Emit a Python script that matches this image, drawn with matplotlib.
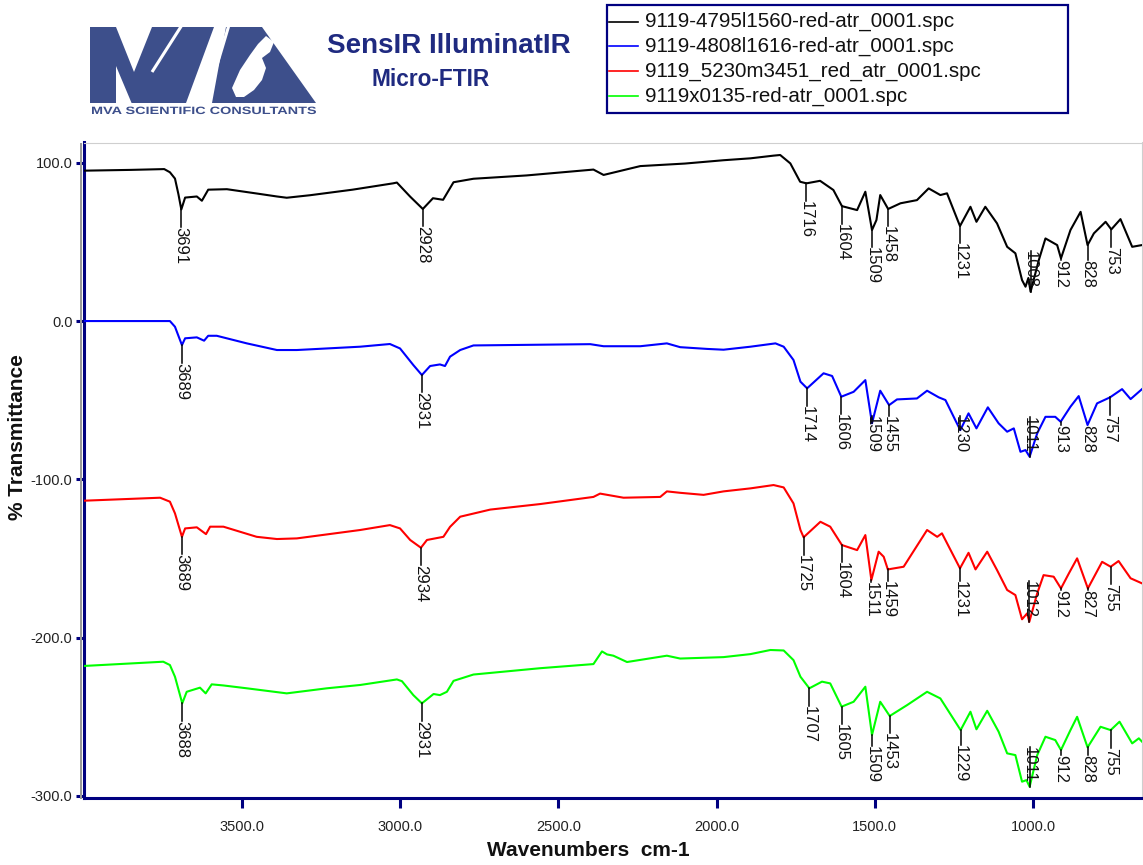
import numpy as np
import matplotlib
matplotlib.use("Agg")
import matplotlib.pyplot as plt
from matplotlib.patches import Polygon, Rectangle, PathPatch
from matplotlib.textpath import TextPath
from matplotlib.font_manager import FontProperties
from matplotlib.transforms import Affine2D

plt.rcParams['font.family'] = ['Liberation Sans', 'DejaVu Sans']

# ---------------------------------------------------------------- spectra
# wavenumber (cm-1, descending) and offset %T for each trace
black_wn = [4000, 3850, 3745, 3727, 3711, 3700, 3691, 3679, 3642, 3626, 3606,
            3547, 3450, 3389, 3358, 3284, 3150, 3022, 3010, 2968, 2928, 2896,
            2864, 2831, 2768, 2600, 2389, 2357, 2241, 2100, 1978, 1893, 1820,
            1799, 1767, 1736, 1716, 1673, 1631, 1604, 1556, 1530, 1509, 1495,
            1483, 1458, 1419, 1367, 1330, 1293, 1272, 1231, 1198, 1179, 1151,
            1114, 1082, 1056, 1035, 1024, 1015, 1008, 982, 961, 924, 912, 882,
            850, 828, 808, 771, 753, 724, 687, 656]
black_t = [95.0, 95.5, 96.0, 94.0, 90.0, 80.0, 70.5, 78.0, 78.7, 76.0, 83.0,
           83.3, 80.5, 78.7, 77.9, 79.5, 83.0, 87.0, 87.5, 78.6, 70.8, 77.6,
           76.6, 87.7, 89.9, 92.0, 95.7, 92.3, 97.9, 99.5, 101.6, 102.8, 104.5,
           104.9, 99.6, 88.0, 87.0, 88.6, 82.8, 72.6, 70.1, 81.7, 57.5, 63.8,
           79.6, 70.8, 74.4, 76.4, 83.8, 79.6, 80.7, 60.0, 72.2, 62.7, 72.2,
           61.7, 46.9, 42.8, 25.9, 21.7, 27.2, 18.5, 38.5, 52.2, 48.0, 39.6, 57.5,
           69.0, 48.0, 55.4, 62.7, 57.9, 64.4, 46.9, 48.0]

blue_wn = [4000, 3850, 3727, 3711, 3689, 3679, 3642, 3619, 3606, 3579, 3484,
           3389, 3326, 3126, 3032, 3000, 2958, 2931, 2905, 2874, 2858, 2842,
           2810, 2768, 2399, 2357, 2241, 2157, 2115, 2030, 1978, 1893, 1814,
           1788, 1757, 1735, 1714, 1662, 1635, 1606, 1567, 1530, 1509, 1483,
           1455, 1430, 1367, 1335, 1298, 1277, 1246, 1230, 1204, 1179, 1143,
           1109, 1082, 1061, 1040, 1024, 1011, 987, 961, 930, 913, 882, 856,
           828, 798, 757, 719, 692, 656]
blue_t = [0.0, 0.0, 0.0, -3.6, -15.2, -10.9, -10.3, -12.4, -9.3, -9.3, -14.1,
          -18.3, -18.3, -16.2, -14.5, -17.3, -27.8, -34.1, -28.4, -27.4, -28.4, -22.5,
          -18.3, -15.4, -14.6, -15.9, -15.9, -14.1, -16.5, -17.6, -18.1, -16.2, -14.1,
          -16.2, -24.6, -38.3, -42.5, -33.0, -34.7, -47.8, -44.7, -37.3, -64.6, -44.0,
          -53.1, -49.5, -48.9, -44.0, -48.2, -49.9, -62.5, -68.9, -58.3, -67.8, -54.5,
          -64.6, -69.9, -67.8, -82.6, -81.5, -85.7, -70.9, -60.5, -60.5, -63.6, -54.1, -47.4,
          -65.7, -52.0, -48.2, -43.0, -49.3, -43.0]

red_wn = [4000, 3758, 3727, 3711, 3689, 3679, 3642, 3613, 3600, 3558, 3453,
          3389, 3326, 3126, 3032, 3000, 2968, 2934, 2915, 2863, 2842, 2810,
          2715, 2557, 2389, 2368, 2294, 2178, 2157, 2115, 2041, 1978, 1893,
          1820, 1788, 1757, 1735, 1725, 1672, 1641, 1604, 1556, 1530, 1511,
          1488, 1472, 1459, 1409, 1335, 1303, 1288, 1231, 1204, 1182, 1145,
          1114, 1082, 1056, 1035, 1019, 1012, 987, 967, 935, 912, 887, 861,
          827, 782, 755, 730, 692, 656]
red_t = [-113.5, -111.6, -114.1, -121.5, -136.3, -131.0, -130.3, -134.6, -129.9, -129.9, -136.3,
         -137.7, -137.3, -132.0, -128.9, -131.0, -138.3, -143.2, -138.3, -136.3, -130.0, -123.6,
         -119.1, -115.6, -111.1, -109.0, -111.6, -111.1, -107.6, -108.5, -109.8, -107.6, -105.7,
         -103.6, -105.1, -115.2, -132.0, -136.6, -126.8, -129.9, -141.5, -144.7, -135.2, -163.6,
         -145.7, -148.9, -156.9, -155.2, -132.0, -136.3, -134.1, -156.2, -146.4, -156.9, -145.7,
         -157.3, -169.9, -173.1, -188.4, -184.7, -190.0, -172.0, -160.5, -161.5, -168.9, -159.4, -149.9,
         -168.9, -152.1, -155.2, -151.6, -162.5, -165.7]

green_wn = [4000, 3748, 3727, 3711, 3688, 3674, 3632, 3614, 3595, 3558, 3484,
            3358, 3231, 3126, 3010, 2994, 2958, 2931, 2894, 2874, 2852, 2831,
            2768, 2557, 2389, 2362, 2346, 2326, 2283, 2157, 2115, 1978, 1893,
            1830, 1788, 1757, 1735, 1707, 1667, 1641, 1605, 1567, 1530, 1509,
            1483, 1453, 1398, 1335, 1293, 1229, 1198, 1179, 1145, 1109, 1082,
            1056, 1035, 1021, 1011, 987, 961, 930, 912, 882, 861, 828, 787,
            755, 727, 687, 666, 656]
green_t = [-217.9, -215.2, -217.3, -224.7, -241.5, -234.2, -231.6, -235.2, -229.5, -230.2, -232.0,
           -235.2, -232.0, -229.9, -226.4, -227.5, -236.3, -241.5, -235.6, -236.3, -234.2, -227.3,
           -223.3, -219.3, -216.7, -208.7, -210.6, -211.4, -215.4, -211.4, -213.2, -212.3, -210.4,
           -207.8, -208.1, -214.2, -224.7, -232.0, -227.8, -228.9, -243.6, -240.5, -231.0, -261.5,
           -240.5, -249.5, -242.6, -234.2, -238.4, -258.4, -246.8, -257.9, -246.2, -259.4, -273.1,
           -274.2, -291.0, -290.0, -294.2, -274.2, -262.6, -264.7, -271.0, -258.4, -250.0, -269.3, -256.3,
           -258.4, -253.1, -266.8, -263.6, -265.7]

# peak positions annotated on each trace
black_peaks = [3691, 2928, 1716, 1604, 1509, 1458, 1231, 1008, 912, 828, 753]
blue_peaks = [3689, 2931, 1714, 1606, 1509, 1455, 1230, 1011, 913, 828, 757]
red_peaks = [3689, 2934, 1725, 1604, 1511, 1459, 1231, 1012, 912, 827, 755]
green_peaks = [3688, 2931, 1707, 1605, 1509, 1453, 1229, 1011, 912, 828, 755]

file_names = ["9119-4795l1560-red-atr_0001.spc",
              "9119-4808l1616-red-atr_0001.spc",
              "9119_5230m3451_red_atr_0001.spc",
              "9119x0135-red-atr_0001.spc"]
trace_colors = ["#000000", "#0000ff", "#ff0000", "#00ff00"]

x_ticks = [3500, 3000, 2500, 2000, 1500, 1000]
y_ticks = [100, 0, -100, -200, -300]

NAVY = "#000080"
LOGO = "#3d4f8b"
TITLE = "#1f2a80"

W, H = 1143, 865
fig = plt.figure(figsize=(W / 100, H / 100), dpi=100)
fig.patch.set_facecolor("white")

# plot frame in pixel terms
L, R, T, B = 83.5, 1142.0, 142.5, 798.0
ax = fig.add_axes([L / W, 1 - B / H, (R - L) / W, (B - T) / H])
ax.set_xlim(4000, 656)
ax.set_ylim(-301.3, 112.8)

series = [(black_wn, black_t, black_peaks),
          (blue_wn, blue_t, blue_peaks),
          (red_wn, red_t, red_peaks),
          (green_wn, green_t, green_peaks)]

renderer = fig.canvas.get_renderer()
to_data = ax.transData.inverted()

for (wn, t, peaks), col in zip(series, trace_colors):
    ax.plot(wn, t, color=col, lw=1.5, solid_joinstyle="round", zorder=3)
    wn_a = np.asarray(wn, float)[::-1]
    t_a = np.asarray(t, float)[::-1]
    floor = min(t) + 2.5          # labels never hang below the trace minimum
    for p in peaks:
        v = float(np.interp(p, wn_a, t_a))
        txt = ax.text(p, v - 11.0, str(p), rotation=270, ha="center", va="top",
                      fontsize=12, color="#111111", zorder=5)
        bb = txt.get_window_extent(renderer)
        y_lo = to_data.transform((bb.x0, bb.y0))[1]
        if y_lo < floor:
            txt.set_y(floor)
            txt.set_va("bottom")
            bb = txt.get_window_extent(renderer)
        y_top = to_data.transform((bb.x0, bb.y1))[1]
        ax.plot([p, p], [v, y_top], color="black", lw=1.1, zorder=4)

ax.set_xticks(x_ticks)
ax.set_xticklabels([f"{v:.1f}" for v in x_ticks])
ax.set_yticks(y_ticks)
ax.set_yticklabels([f"{v:.1f}" for v in y_ticks])

for side in ("left", "bottom"):
    ax.spines[side].set_color(NAVY)
    ax.spines[side].set_linewidth(2.2)
for side in ("top", "right"):
    ax.spines[side].set_color("#cfcfcf")
    ax.spines[side].set_linewidth(0.8)

ax.tick_params(axis="y", direction="out", length=6, width=2.2, color=NAVY,
               labelsize=10.5, labelcolor="#222222", pad=2)
ax.tick_params(axis="x", direction="out", length=7, width=2.2, color=NAVY,
               labelsize=10.5, labelcolor="#222222", pad=9)

# overlay for header graphics and axis titles, in pixel coordinates (y down)
ov = fig.add_axes([0, 0, 1, 1], zorder=10)
ov.set_xlim(0, W)
ov.set_ylim(H, 0)
ov.axis("off")
ov.patch.set_alpha(0)

ov.text(588, 851, "Wavenumbers  cm-1", ha="center", va="center",
        fontsize=15, fontweight="bold", color="#111111")
ov.text(18, 437, "% Transmittance", ha="center", va="center", rotation=90,
        fontsize=15, fontweight="bold", color="#111111")

# shadow strip beside the y axis
ov.add_patch(Rectangle((79.5, T), 2.6, B - T + 1, color="#9a9a9a", lw=0))


def fitted_text(s, x0, x1, y_base, cap_h, color, weight="bold"):
    """Draw text as a path stretched to span x0..x1 with a given cap height."""
    tp = TextPath((0, 0), s, size=10,
                  prop=FontProperties(family="Liberation Sans", weight=weight))
    ext = tp.get_extents()
    sx = (x1 - x0) / ext.width
    sy = cap_h / ext.height
    tr = Affine2D().translate(-ext.x0, 0).scale(sx, -sy).translate(x0, y_base)
    ov.add_patch(PathPatch(tr.transform_path(tp), color=color, lw=0))


# logo: M + slanted stroke + triangle with a microscope cut-out
body = [(90, 27), (116, 27), (134, 72), (152, 27), (214, 27), (186, 103),
        (90, 103)]
ov.add_patch(Polygon(body, closed=True, color=LOGO, lw=0))
ov.add_patch(Polygon([(116, 66), (116, 104), (132, 104)], closed=True,
                     color="white", lw=0))
ov.plot([152, 182], [72, 25], color="white", lw=2.2, solid_capstyle="butt")
tri = [(226, 27), (262, 27), (316, 103), (212, 103)]
ov.add_patch(Polygon(tri, closed=True, color=LOGO, lw=0))
ov.plot([229, 205], [25, 105], color="white", lw=2.2, solid_capstyle="butt")
scope = [(232, 88), (240, 70), (250, 55), (258, 44), (266, 36), (274, 42),
         (270, 52), (262, 58), (266, 68), (262, 80), (254, 90), (244, 97),
         (236, 97)]
ov.add_patch(Polygon(scope, closed=True, color="white", lw=0))
fitted_text("MVA SCIENTIFIC CONSULTANTS", 92, 316, 114, 7.5, LOGO)

ov.text(449, 46, "SensIR IlluminatIR", ha="center", va="center",
        fontsize=20, fontweight="bold", color=TITLE)
ov.text(431, 80, "Micro-FTIR", ha="center", va="center",
        fontsize=16.3, fontweight="bold", color=TITLE)

# legend box
ov.add_patch(Rectangle((607, 5), 461, 108, fill=False, ec=NAVY, lw=1.6))
for i, (name, col) in enumerate(zip(file_names, trace_colors)):
    yy = 21.5 + i * 24.8
    ov.plot([609, 638], [yy, yy], color=col, lw=1.2)
    ov.text(645, yy, name, ha="left", va="center", fontsize=14.8, color="#111111")

fig.savefig("out.png", dpi=100, facecolor="white")
